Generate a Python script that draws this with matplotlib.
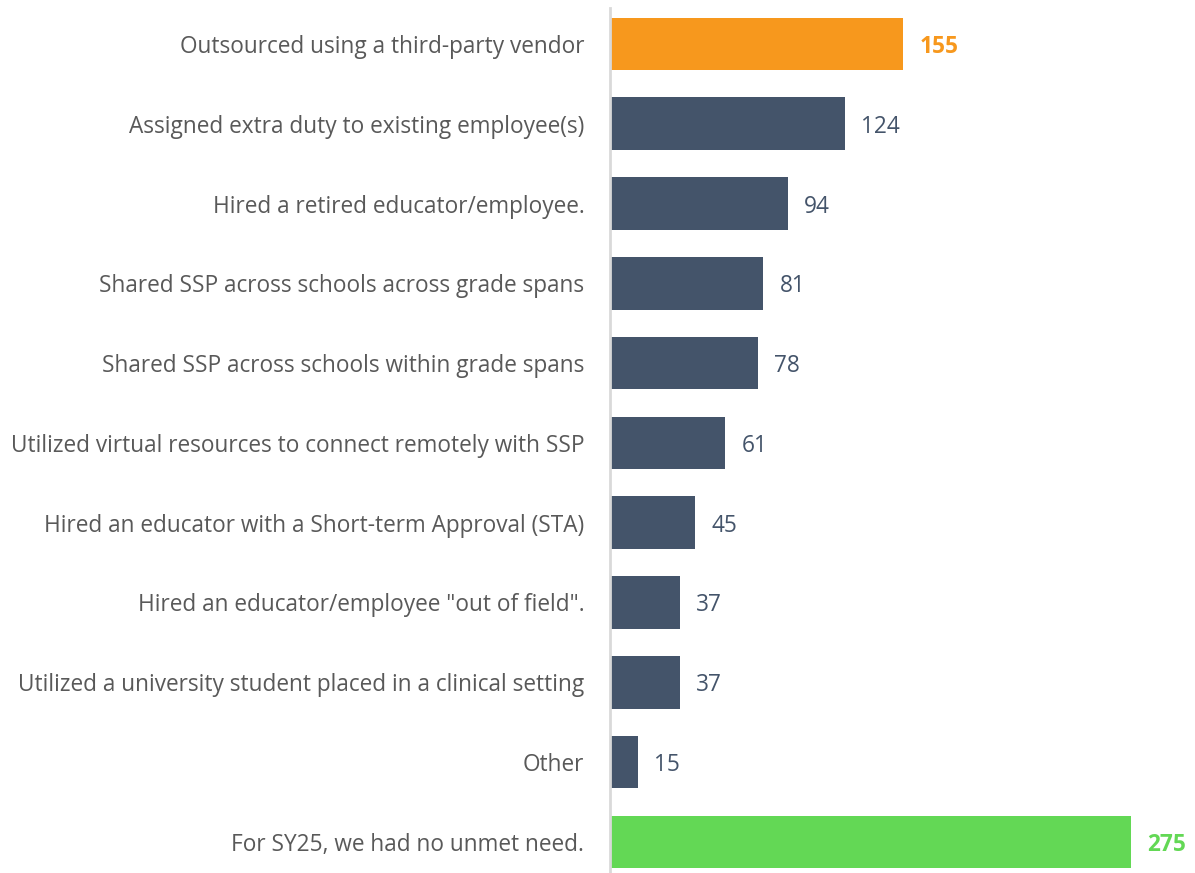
import matplotlib
matplotlib.use("Agg")
import matplotlib.pyplot as plt

categories = [
    "Outsourced using a third-party vendor",
    "Assigned extra duty to existing employee(s)",
    "Hired a retired educator/employee.",
    "Shared SSP across schools across grade spans",
    "Shared SSP across schools within grade spans",
    "Utilized virtual resources to connect remotely with SSP",
    "Hired an educator with a Short-term Approval (STA)",
    "Hired an educator/employee \"out of field\".",
    "Utilized a university student placed in a clinical setting",
    "Other",
    "For SY25, we had no unmet need.",
]
counts = [155, 124, 94, 81, 78, 61, 45, 37, 37, 15, 275]

dark = "#44546A"
orange = "#F7981D"
green = "#63D855"
colors = [orange] + [dark] * 9 + [green]

plt.rcParams["font.family"] = ["Open Sans", "DejaVu Sans"]

fig = plt.figure(figsize=(11.95, 8.73), dpi=100)
ax = fig.add_axes([610 / 1195, 0, 585 / 1195, 865 / 873])

pos = list(range(len(categories)))
ax.barh(pos, counts, height=0.66, color=colors)

for i, (v, c) in enumerate(zip(counts, colors)):
    bold = c != dark
    ax.text(v + 8.5, i, str(v), va="center_baseline", ha="left", fontsize=16.3,
            color=c, fontweight="bold" if bold else "normal")

ax.set_yticks(pos)
ax.set_yticklabels(categories, fontsize=16.3, color="#595959", va="center_baseline")
ax.tick_params(axis="y", length=0, pad=18.5)
ax.set_xticks([])
ax.set_xlim(0, 309)
ax.set_ylim(10.39, -0.45)

for s in ["top", "right", "bottom"]:
    ax.spines[s].set_visible(False)
ax.spines["left"].set_color("#D9D9D9")
ax.spines["left"].set_linewidth(2)

fig.savefig("out.png", dpi=100)
